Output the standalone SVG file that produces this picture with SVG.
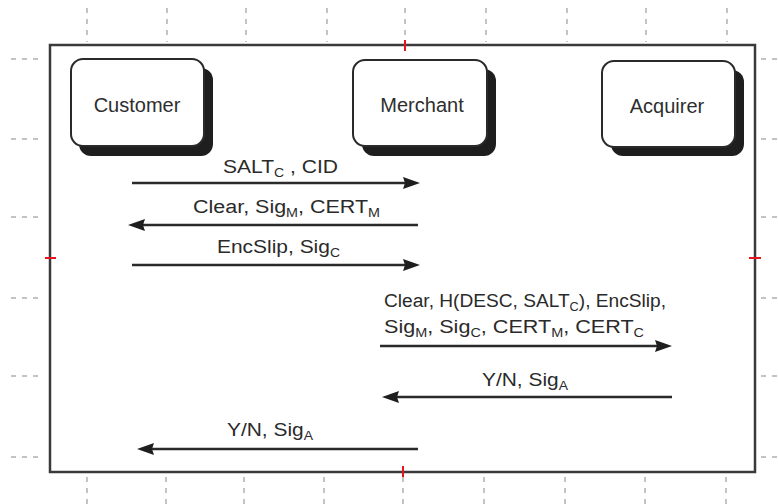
<svg xmlns="http://www.w3.org/2000/svg" width="778" height="504" viewBox="0 0 778 504">
<style>
.ruler{stroke:#b0b0b0;stroke-width:1.5;stroke-dasharray:5 6;fill:none}
.tick{stroke:#e8141c;stroke-width:2}
.frame{fill:none;stroke:#3a3a3a;stroke-width:2.5}
.shadow{fill:#1e1e1e}
.box{fill:#fff;stroke:#2a2a2a;stroke-width:2}
.name{font-family:"Liberation Sans",Arial,sans-serif;font-size:20px;fill:#2e2e2e;text-anchor:middle}
.lbl{font-family:"Liberation Sans",Arial,sans-serif;font-size:18px;fill:#2a2a2a}
.sub{font-size:12px}
.msg{stroke:#2a2a2a;stroke-width:2.5;fill:none;marker-end:url(#ah)}
</style>
<defs>
<marker id="ah" markerUnits="userSpaceOnUse" markerWidth="18" markerHeight="14" refX="10" refY="6" orient="auto">
<path d="M0,0 L17,6 L0,12 L2,6 z" fill="#1e1e1e"/>
</marker>
</defs>
<rect width="778" height="504" fill="#fff"/>
<g id="rulers">
<path class="ruler" d="M87,8V42M167,8V42M246,8V42M327,8V42M405,8V42M486,8V42M567,8V42M646,8V42M727,8V42"/>
<path class="ruler" d="M87,477V504M166,477V504M244,477V504M324,477V504M403,477V504M484,477V504M565,477V504M645,477V504M726,477V504"/>
<path class="ruler" d="M11,59H44M11,139H44M11,217H44M11,298H44M11,376H44M11,457H44"/>
<path class="ruler" d="M761,59H778M761,139H778M761,217H778M761,298H778M761,376H778M761,457H778"/>
</g>
<g id="frame">
<rect class="frame" x="50" y="45" width="705" height="427"/>
<path class="tick" d="M405,40V51M403,466V477M45,258H56M749,258H761"/>
</g>
<g id="customer">
<rect class="shadow" x="79" y="68" width="134" height="88" rx="12"/>
<rect class="box" x="71" y="59" width="133" height="87" rx="12"/>
<text class="name" x="137" y="112">Customer</text>
</g>
<g id="merchant">
<rect class="shadow" x="362" y="69" width="134" height="87" rx="12"/>
<rect class="box" x="353" y="60" width="134" height="86" rx="12"/>
<text class="name" x="422" y="112">Merchant</text>
</g>
<g id="acquirer">
<rect class="shadow" x="611" y="70" width="133" height="86" rx="12"/>
<rect class="box" x="602" y="61" width="133" height="86" rx="12"/>
<text class="name" x="667" y="113">Acquirer</text>
</g>
<g id="connectors">
<line class="msg" x1="132" y1="183" x2="413" y2="183"/>
<line class="msg" x1="418" y1="225" x2="135" y2="225"/>
<line class="msg" x1="132" y1="265" x2="413" y2="265"/>
<line class="msg" x1="380" y1="346" x2="665" y2="346"/>
<line class="msg" x1="672" y1="397" x2="389" y2="397"/>
<line class="msg" x1="418" y1="449" x2="144" y2="449"/>
</g>
<g id="labels">
<text class="lbl" x="223" y="173" textLength="115" lengthAdjust="spacingAndGlyphs">SALT<tspan class="sub" dy="4">C</tspan><tspan dy="-4"> , CID</tspan></text>
<text class="lbl" x="193" y="213" textLength="187" lengthAdjust="spacingAndGlyphs">Clear, Sig<tspan class="sub" dy="4">M</tspan><tspan dy="-4">, CERT</tspan><tspan class="sub" dy="4">M</tspan></text>
<text class="lbl" x="217" y="253" textLength="123" lengthAdjust="spacingAndGlyphs">EncSlip, Sig<tspan class="sub" dy="4">C</tspan></text>
<text class="lbl" x="384" y="307" textLength="282" lengthAdjust="spacingAndGlyphs">Clear, H(DESC, SALT<tspan class="sub" dy="4">C</tspan><tspan dy="-4">), EncSlip,</tspan></text>
<text class="lbl" x="384" y="333" textLength="260" lengthAdjust="spacingAndGlyphs">Sig<tspan class="sub" dy="4">M</tspan><tspan dy="-4">, Sig</tspan><tspan class="sub" dy="4">C</tspan><tspan dy="-4">, CERT</tspan><tspan class="sub" dy="4">M</tspan><tspan dy="-4">, CERT</tspan><tspan class="sub" dy="4">C</tspan></text>
<text class="lbl" x="482" y="386" textLength="86" lengthAdjust="spacingAndGlyphs">Y/N, Sig<tspan class="sub" dy="4">A</tspan></text>
<text class="lbl" x="227" y="436" textLength="86" lengthAdjust="spacingAndGlyphs">Y/N, Sig<tspan class="sub" dy="4">A</tspan></text>
</g>
</svg>
